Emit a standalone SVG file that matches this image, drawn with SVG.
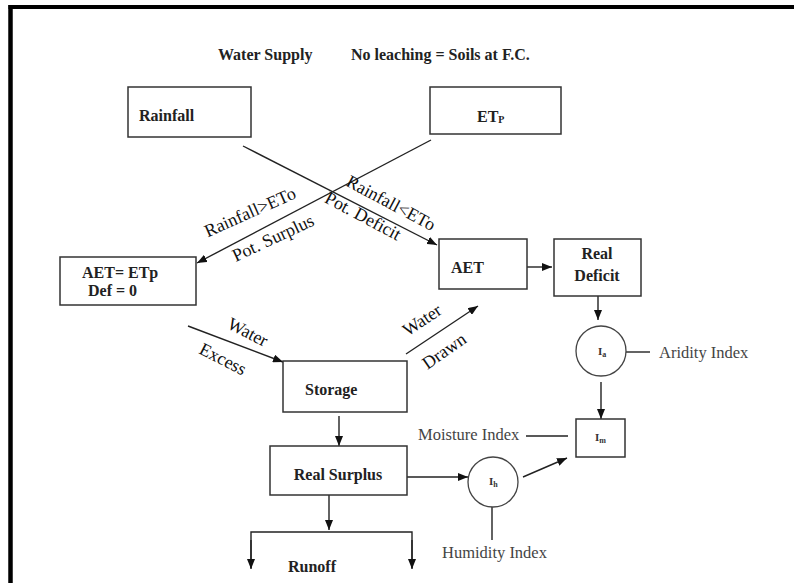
<svg xmlns="http://www.w3.org/2000/svg" width="794" height="583" viewBox="0 0 794 583">
<style>
.box{fill:#fff;stroke:#333;stroke-width:1.5}
.circ{fill:#fff;stroke:#444;stroke-width:1.3}
.b{font-family:"Liberation Serif","Times New Roman",serif;font-weight:bold;font-size:16px;fill:#222}
.r{font-family:"Liberation Serif","Times New Roman",serif;font-size:18px;fill:#111}
.idx{font-family:"Liberation Serif","DejaVu Serif",serif;font-size:16.5px;fill:#444}
.sm{font-family:"Liberation Serif","Times New Roman",serif;font-weight:bold;font-size:11px;fill:#333}
.c line,.c path{stroke:#222;stroke-width:1.4;fill:none}
.c .a{marker-end:url(#ah)}
</style>
<defs>
<marker id="ah" markerUnits="userSpaceOnUse" markerWidth="10" markerHeight="8" refX="10" refY="4" orient="auto">
<path d="M0,0 L10,4 L0,8 z" fill="#111"/>
</marker>
</defs>
<rect width="794" height="583" fill="#fff"/>
<g id="frame">
<line x1="8.5" y1="7" x2="794" y2="7" stroke="#000" stroke-width="4"/>
<line x1="10.5" y1="5" x2="10.5" y2="583" stroke="#000" stroke-width="4.5"/>
</g>
<g id="titles">
<text class="b" x="218" y="60">Water Supply</text>
<text class="b" x="351" y="60">No leaching = Soils at F.C.</text>
</g>
<g class="c" id="connectors">
<line class="a" x1="243" y1="146" x2="437" y2="245"/>
<line class="a" x1="431" y1="140" x2="197" y2="263"/>
<line class="a" x1="527" y1="267" x2="552" y2="267"/>
<line class="a" x1="598" y1="296" x2="598" y2="320"/>
<line x1="626" y1="352" x2="650" y2="352"/>
<line class="a" x1="601" y1="382" x2="601" y2="419"/>
<line x1="526" y1="436" x2="568" y2="436"/>
<line class="a" x1="523" y1="477" x2="567" y2="458"/>
<line x1="492" y1="507" x2="492" y2="540"/>
<line class="a" x1="188" y1="326" x2="283" y2="362"/>
<line class="a" x1="406" y1="354" x2="478" y2="306"/>
<line class="a" x1="339" y1="416" x2="339" y2="446"/>
<line class="a" x1="407" y1="477" x2="468" y2="477"/>
<line class="a" x1="329" y1="495" x2="329" y2="530"/>
<path d="M251,568 V532 H412 V568"/>
<line class="a" x1="251" y1="540" x2="251" y2="569"/>
<line class="a" x1="412" y1="540" x2="412" y2="569"/>
</g>
<g id="edge-labels">
<text class="r" text-anchor="middle" transform="translate(250,212) rotate(-24)" y="6">Rainfall&gt;ETo</text>
<text class="r" text-anchor="middle" transform="translate(273,238) rotate(-25)" y="6" font-size="17">Pot. Surplus</text>
<text class="r" text-anchor="middle" transform="translate(391,203) rotate(28)" y="6">Rainfall&lt;ETo</text>
<text class="r" text-anchor="middle" transform="translate(363,216) rotate(28)" y="6" font-size="17">Pot. Deficit</text>
<text class="r" text-anchor="middle" transform="translate(248,332) rotate(27)" y="6" font-size="17">Water</text>
<text class="r" text-anchor="middle" transform="translate(223,359) rotate(27)" y="6" font-size="17">Excess</text>
<text class="r" text-anchor="middle" transform="translate(422,320) rotate(-34)" y="6" font-size="17">Water</text>
<text class="r" text-anchor="middle" transform="translate(444,351) rotate(-35)" y="6" font-size="17">Drawn</text>
</g>
<g id="rainfall">
<rect class="box" x="128" y="87" width="123" height="50"/>
<text class="b" x="139" y="121">Rainfall</text>
</g>
<g id="etp">
<rect class="box" x="430" y="87" width="131" height="47"/>
<text class="b" x="477" y="122">ET<tspan font-size="10" dy="1">P</tspan></text>
</g>
<g id="aet-etp">
<rect class="box" x="60" y="257" width="136" height="48"/>
<text class="b" x="82" y="278">AET= ETp</text>
<text class="b" x="88" y="296">Def = 0</text>
</g>
<g id="aet">
<rect class="box" x="439" y="239" width="88" height="50"/>
<text class="b" x="451" y="273">AET</text>
</g>
<g id="real-deficit">
<rect class="box" x="554" y="239" width="87" height="57"/>
<text class="b" x="597" y="259" text-anchor="middle">Real</text>
<text class="b" x="597" y="281" text-anchor="middle">Deficit</text>
</g>
<g id="ia">
<circle class="circ" cx="601" cy="351" r="25"/>
<text class="sm" x="598" y="355">I<tspan font-size="8" dy="2">a</tspan></text>
</g>
<text class="idx" x="659" y="358">Aridity Index</text>
<g id="im">
<rect class="box" x="576" y="419" width="49" height="38"/>
<text class="sm" x="595" y="441">I<tspan font-size="8" dy="2">m</tspan></text>
</g>
<text class="idx" x="418" y="440">Moisture Index</text>
<g id="ih">
<circle class="circ" cx="493" cy="482" r="25"/>
<text class="sm" x="489" y="485">I<tspan font-size="8" dy="2">h</tspan></text>
</g>
<text class="idx" x="442" y="558">Humidity Index</text>
<g id="storage">
<rect class="box" x="283" y="361" width="124" height="51"/>
<text class="b" x="305" y="395">Storage</text>
</g>
<g id="real-surplus">
<rect class="box" x="270" y="446" width="137" height="49"/>
<text class="b" x="338" y="480" text-anchor="middle">Real Surplus</text>
</g>
<g id="runoff">
<text class="b" x="288" y="572">Runoff</text>
</g>
</svg>
